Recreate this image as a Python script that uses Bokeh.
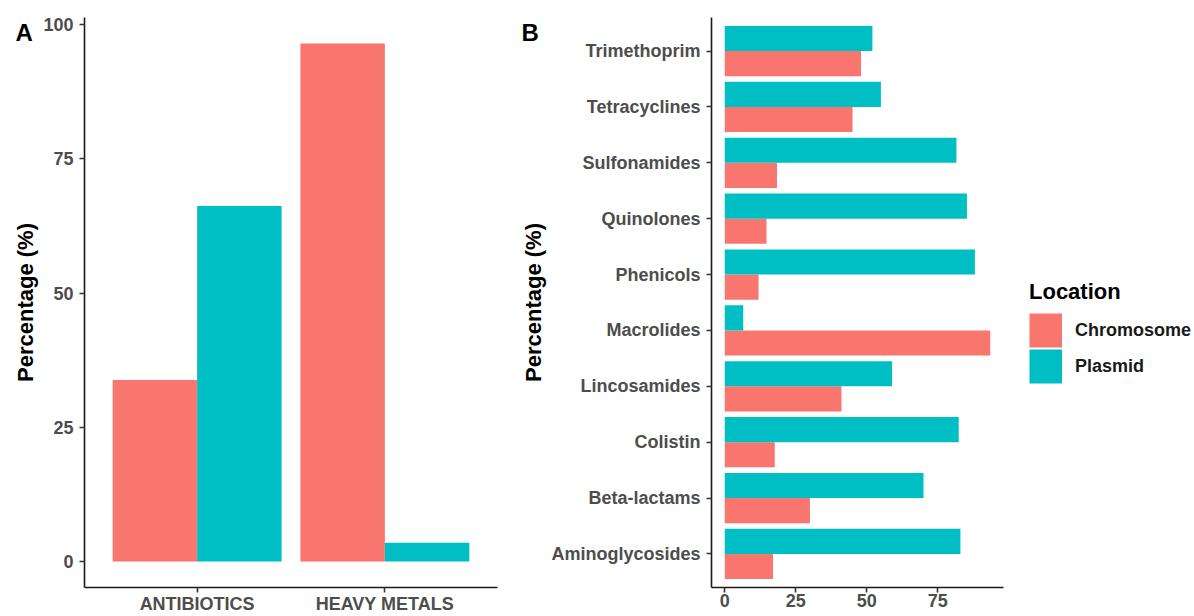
import numpy as np
from bokeh.plotting import figure
from bokeh.models import (ColumnDataSource, FactorRange, Range1d, FixedTicker,
                          Legend, LegendItem, Title)
from bokeh.transform import dodge
from bokeh.layouts import row
from bokeh.embed import file_html
from bokeh.resources import INLINE

# ---- Panel A: resistance type by genomic location ----
groups = ["ANTIBIOTICS", "HEAVY METALS"]
group_chromosome = [33.8, 96.5]
group_plasmid = [66.2, 3.5]

# ---- Panel B: antibiotic class by genomic location ----
classes = ["Aminoglycosides", "Beta-lactams", "Colistin", "Lincosamides",
           "Macrolides", "Phenicols", "Quinolones", "Sulfonamides",
           "Tetracyclines", "Trimethoprim"]
class_chromosome = [17.0, 30.0, 17.6, 41.1, 93.5, 11.9, 14.7, 18.4, 45.0, 48.0]
class_plasmid = [83.0, 70.0, 82.4, 58.9, 6.5, 88.1, 85.3, 81.6, 55.0, 52.0]

ticks_a = [0, 25, 50, 75, 100]
ticks_b = [0, 25, 50, 75]

location_names = ["Chromosome", "Plasmid"]
location_colors = ["#F8766D", "#00BFC4"]

FONT = "Liberation Sans"
TICK_COLOR = "#4d4d4d"


def style_axes(p):
    p.xgrid.grid_line_color = None
    p.ygrid.grid_line_color = None
    p.outline_line_color = None
    for ax in (p.xaxis[0], p.yaxis[0]):
        ax.axis_line_color = "#1a1a1a"
        ax.axis_line_width = 1.6
        ax.major_tick_line_color = "#333333"
        ax.major_tick_line_width = 1.6
        ax.major_tick_out = 5
        ax.major_tick_in = 0
        ax.minor_tick_line_color = None
        ax.major_label_text_font = FONT
        ax.major_label_text_font_style = "bold"
        ax.major_label_text_font_size = "18px"
        ax.major_label_text_color = TICK_COLOR
        ax.axis_label_text_font = FONT
        ax.axis_label_text_font_style = "bold"
        ax.axis_label_text_font_size = "22px"
        ax.axis_label_text_color = "black"
    p.xaxis.major_label_standoff = 1
    p.yaxis.major_label_standoff = 6
    p.yaxis.axis_label_standoff = 2


def panel_letter(p, text, offset):
    # panel tag drawn beside the top of the y axis
    p.add_layout(Title(text=text, align="left", vertical_align="bottom",
                       offset=offset, standoff=-56,
                       text_font=FONT, text_font_style="bold",
                       text_font_size="24px", text_color="black"), "above")


# ---------------- Panel A ----------------
src_a = ColumnDataSource(dict(group=groups, chrom=group_chromosome,
                              plas=group_plasmid))
top_a = max(group_chromosome + group_plasmid)
pA = figure(width=510, height=616,
            x_range=FactorRange(*groups, range_padding=0.1),
            y_range=Range1d(-0.05 * top_a, 1.05 * top_a),
            output_backend="svg", toolbar_location=None,
            min_border_left=84, min_border_right=13,
            min_border_top=17, min_border_bottom=29)
pA.vbar(x=dodge("group", -0.225, range=pA.x_range), top="chrom", bottom=0,
        width=0.45, source=src_a, fill_color=location_colors[0], line_color=None)
pA.vbar(x=dodge("group", 0.225, range=pA.x_range), top="plas", bottom=0,
        width=0.45, source=src_a, fill_color=location_colors[1], line_color=None)
style_axes(pA)
pA.yaxis.ticker = FixedTicker(ticks=ticks_a)
pA.yaxis.axis_label = "Percentage (%)"
panel_letter(pA, "A", -69)

# ---------------- Panel B ----------------
src_b = ColumnDataSource(dict(cls=classes, chrom=class_chromosome,
                              plas=class_plasmid))
top_b = max(class_chromosome + class_plasmid)
pB = figure(width=508, height=616,
            y_range=FactorRange(*classes, range_padding=0.02),
            x_range=Range1d(-0.05 * top_b, 1.05 * top_b),
            output_backend="svg", toolbar_location=None,
            min_border_left=201, min_border_right=15,
            min_border_top=17, min_border_bottom=29)
pB.hbar(y=dodge("cls", -0.225, range=pB.y_range), left=0, right="chrom",
        height=0.45, source=src_b, fill_color=location_colors[0], line_color=None)
pB.hbar(y=dodge("cls", 0.225, range=pB.y_range), left=0, right="plas",
        height=0.45, source=src_b, fill_color=location_colors[1], line_color=None)
style_axes(pB)
pB.xaxis.ticker = FixedTicker(ticks=ticks_b)
pB.yaxis.axis_label = "Percentage (%)"
panel_letter(pB, "B", -190)

# ---------------- Legend panel ----------------
pL = figure(width=176, height=616, x_axis_type=None, y_axis_type=None,
            x_range=Range1d(0, 1), y_range=Range1d(0, 1),
            output_backend="svg", toolbar_location=None,
            min_border=0, outline_line_color=None)
pL.xgrid.grid_line_color = None
pL.ygrid.grid_line_color = None
# key-only renderers (a single undefined point, nothing drawn in the frame);
# thick butt-capped strokes give square swatches in the legend
keys = [pL.line(x=np.array([np.nan]), y=np.array([np.nan]), line_color=c,
                line_width=34, line_cap="butt")
        for c in location_colors]
legend = Legend(items=[LegendItem(label=n, renderers=[k])
                       for n, k in zip(location_names, keys)],
                location=(11, 203), title="Location",
                title_text_font=FONT, title_text_font_style="bold",
                title_text_font_size="22px", title_text_color="black",
                title_standoff=7,
                label_text_font=FONT, label_text_font_style="bold",
                label_text_font_size="18px", label_text_color="#1a1a1a",
                glyph_width=33, glyph_height=36, spacing=0, label_standoff=13,
                padding=0, margin=0, border_line_color=None,
                background_fill_alpha=0)
pL.add_layout(legend)

layout = row(pA, pB, pL)
open("out.html", "w").write(file_html(layout, INLINE))
